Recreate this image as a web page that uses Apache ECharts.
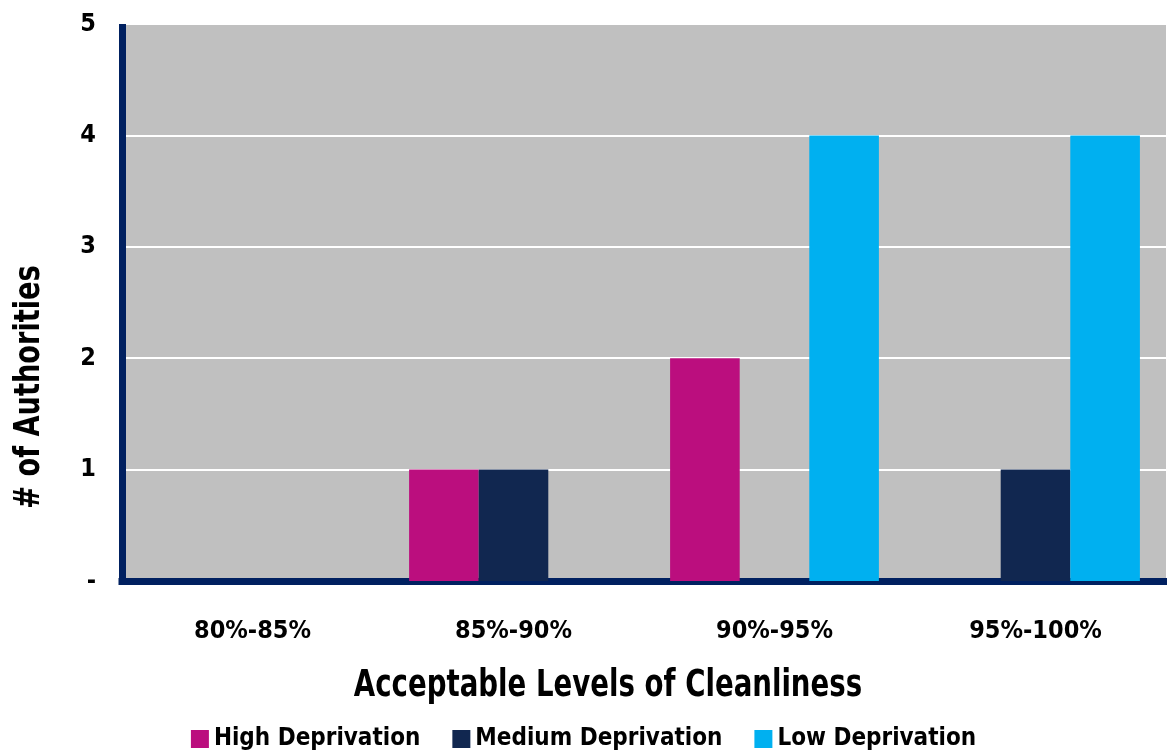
<!DOCTYPE html>
<html>
<head>
<meta charset="utf-8">
<script src="https://cdn.jsdelivr.net/npm/echarts@6/dist/echarts.min.js"></script>
<style>
  html, body { margin: 0; padding: 0; background: #fff; }
  #main { width: 1167px; height: 756px; }
</style>
</head>
<body>
<div id="main"></div>
<script>
var categories = ['80%-85%', '85%-90%', '90%-95%', '95%-100%'];
var highDep = [0, 1, 2, 0];
var mediumDep = [0, 1, 0, 1];
var lowDep = [0, 0, 4, 4];
var seriesNames = ['High Deprivation', 'Medium Deprivation', 'Low Deprivation'];
var colors = ['#bb0e7e', '#112750', '#00b0f0'];

var FONT = '"DejaVu Sans Condensed", "Liberation Sans Narrow", sans-serif';

var chart = echarts.init(document.getElementById('main'));
var option = {
  animation: false,
  color: colors,
  grid: {
    left: 122, right: 1, top: 24, bottom: 175,
    show: true, backgroundColor: '#c0c0c0', borderWidth: 0
  },
  legend: {
    bottom: 0, left: 'center',
    itemWidth: 18, itemHeight: 18, itemGap: 32,
    icon: 'rect',
    textStyle: { fontFamily: FONT, fontWeight: 'bold', fontSize: 24, color: '#000' },
    data: seriesNames
  },
  xAxis: {
    type: 'category',
    data: categories,
    axisLine: { lineStyle: { color: '#002060', width: 7, cap: 'square' } },
    axisTick: { show: false },
    axisLabel: { margin: 38, fontFamily: FONT, fontWeight: 'bold', fontSize: 25, color: '#000' }
  },
  yAxis: {
    type: 'value',
    min: 0, max: 5, interval: 1,
    axisLine: { show: true, lineStyle: { color: '#002060', width: 7, cap: 'butt' } },
    axisTick: { show: false },
    splitLine: { lineStyle: { color: '#ffffff', width: 2 } },
    axisLabel: {
      margin: 26, fontFamily: FONT, fontWeight: 'bold', fontSize: 25, color: '#000',
      formatter: function (v) { return v === 0 ? '-' : v; }
    }
  },
  graphic: [
    {
      type: 'text', x: 30, y: 387, rotation: Math.PI / 2, scaleX: 0.84,
      style: {
        text: '# of Authorities', fontFamily: FONT, fontWeight: 'bold', fontSize: 36,
        fill: '#000', align: 'center', verticalAlign: 'middle'
      }
    },
    {
      type: 'text', x: 608, y: 686, scaleX: 0.83,
      style: {
        text: 'Acceptable Levels of Cleanliness', fontFamily: FONT, fontWeight: 'bold', fontSize: 37,
        fill: '#000', align: 'center', verticalAlign: 'middle'
      }
    }
  ],
  series: [
    { name: seriesNames[0], type: 'bar', data: highDep, barGap: '0%', barCategoryGap: '20%' },
    { name: seriesNames[1], type: 'bar', data: mediumDep },
    { name: seriesNames[2], type: 'bar', data: lowDep }
  ]
};
chart.setOption(option);
</script>
</body>
</html>
